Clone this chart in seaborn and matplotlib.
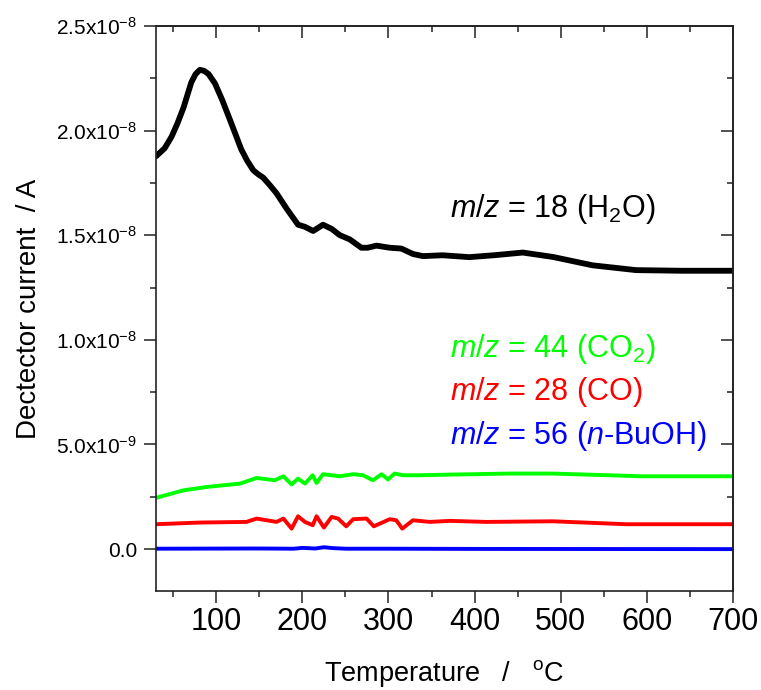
import matplotlib
matplotlib.use("Agg")
import matplotlib.pyplot as plt
import matplotlib.ticker as mticker
import numpy as np
import pandas as pd
import seaborn as sns

# ---- data (current in units of 1e-9 A) ----
T_h2o = [30, 40, 48, 55, 62, 71, 76, 81, 86, 91, 98.5, 107, 116, 123, 129, 136, 143,
         149, 154.5, 162, 170, 182, 195, 203, 212.5, 224, 234, 243.5, 255, 268.5,
         276, 286, 301.5, 315, 328.5, 340, 363, 394, 425, 456, 491, 537, 587.6, 640, 700]
I_h2o = [18.77, 19.15, 19.7, 20.35, 21.1, 22.3, 22.7, 22.9, 22.85, 22.7, 22.25, 21.45,
         20.5, 19.75, 19.1, 18.55, 18.1, 17.9, 17.75, 17.4, 17.0, 16.25, 15.5, 15.4,
         15.2, 15.5, 15.3, 15.0, 14.8, 14.4, 14.4, 14.5, 14.4, 14.36, 14.1, 14.0,
         14.04, 13.95, 14.05, 14.17, 13.96, 13.56, 13.33, 13.3, 13.3]

T_co2 = [30, 62, 89, 127.5, 147, 168, 178, 187.5, 195, 203, 212, 216.5, 224, 243.5,
         259, 270.5, 282, 292, 299.5, 307, 317, 336, 371, 440.7, 490.5, 595, 700]
I_co2 = [2.45, 2.81, 2.97, 3.13, 3.40, 3.29, 3.48, 3.09, 3.37, 3.13, 3.53, 3.16,
         3.58, 3.48, 3.58, 3.53, 3.29, 3.58, 3.33, 3.61, 3.53, 3.53, 3.56, 3.61,
         3.61, 3.48, 3.48]

T_co = [30, 81, 135, 147, 170, 178, 187.5, 195, 203, 212, 216.5, 225, 234, 241.5,
        251, 259, 274.5, 283, 301.5, 309, 316, 328.5, 348, 371, 413.6, 491, 576, 700]
I_co = [1.19, 1.27, 1.30, 1.46, 1.30, 1.46, 0.98, 1.57, 1.30, 1.14, 1.57, 1.03,
        1.54, 1.46, 1.09, 1.43, 1.46, 1.09, 1.43, 1.38, 0.98, 1.38, 1.30, 1.35,
        1.30, 1.33, 1.19, 1.19]

T_buoh = [30, 150, 190, 200, 215, 225, 235, 250, 300, 400, 700]
I_buoh = [0.02, 0.03, 0.02, 0.06, 0.03, 0.09, 0.05, 0.02, 0.02, 0.01, 0.0]

labels = ['$m/z$ = 18 (H$_2$O)', '$m/z$ = 44 (CO$_2$)',
          '$m/z$ = 28 (CO)', '$m/z$ = 56 ($n$-BuOH)']
colors = ['#000000', '#00ff00', '#ff0000', '#0000ff']

x_ticks = [100, 200, 300, 400, 500, 600, 700]
y_ticks = [0.0, 5e-9, 1e-8, 1.5e-8, 2e-8, 2.5e-8]
y_ticklabels = ['0.0', '5.0x10$^{-9}$', '1.0x10$^{-8}$', '1.5x10$^{-8}$',
                '2.0x10$^{-8}$', '2.5x10$^{-8}$']

# ---- style ----
sns.set_theme(style='ticks')
plt.rcParams['font.family'] = ['Liberation Sans', 'DejaVu Sans']
plt.rcParams['mathtext.fontset'] = 'custom'
plt.rcParams['mathtext.rm'] = 'Liberation Sans'
plt.rcParams['mathtext.it'] = 'Liberation Sans:italic'
plt.rcParams['mathtext.bf'] = 'Liberation Sans:bold'
for k in ('text.color', 'axes.labelcolor', 'xtick.color', 'ytick.color'):
    plt.rcParams[k] = 'black'

fig = plt.figure(figsize=(7.61, 6.90), dpi=100)
ax = fig.add_axes([0.205, 0.1435, 0.758, 0.819])

series = [(T_h2o, I_h2o, 4.2), (T_co2, I_co2, 2.8), (T_co, I_co, 2.8), (T_buoh, I_buoh, 2.8)]
for (T, I, lw), col in zip(series, colors):
    df = pd.DataFrame({'T': T, 'I': np.array(I) * 1e-9})
    sns.lineplot(data=df, x='T', y='I', ax=ax, color=col, linewidth=lw,
                 solid_joinstyle='round', solid_capstyle='round')

ax.set_xlim(30, 700)
ax.set_ylim(-2e-9, 2.5e-8)
ax.set_xticks(x_ticks)
ax.set_yticks(y_ticks)
ax.set_yticklabels(y_ticklabels)
ax.xaxis.set_minor_locator(mticker.MultipleLocator(50))
ax.yaxis.set_minor_locator(mticker.MultipleLocator(2.5e-9))

for s in ax.spines.values():
    s.set_visible(True)
    s.set_linewidth(1.2)
    s.set_color('#222222')

ax.tick_params(which='both', direction='out', bottom=True, left=True,
               top=False, right=False, color='#222222', width=1.1)
ax.tick_params(which='major', length=8.6)
ax.tick_params(which='minor', length=4.3)
ax.tick_params(axis='x', which='major', labelsize=22, pad=3)
ax.tick_params(axis='y', which='major', labelsize=15, pad=5)

# mirrored inward ticks on top/right
axt = ax.secondary_xaxis('top')
axt.set_xticks(x_ticks)
axt.xaxis.set_minor_locator(mticker.MultipleLocator(50))
axt.tick_params(which='both', direction='in', labeltop=False, color='#222222', width=1.1)
axt.tick_params(which='major', length=8.6)
axt.tick_params(which='minor', length=4.3)
axt.spines['top'].set_linewidth(1.2)
axr = ax.secondary_yaxis('right')
axr.set_yticks(y_ticks)
axr.yaxis.set_minor_locator(mticker.MultipleLocator(2.5e-9))
axr.tick_params(which='both', direction='in', labelright=False, color='#222222', width=1.1)
axr.tick_params(which='major', length=8.6)
axr.tick_params(which='minor', length=4.3)
axr.spines['right'].set_linewidth(1.2)

ax.set_xlabel('Temperature   /   $^{\\rm o}$C', fontsize=19.5)
ax.set_ylabel('Dectector current  / A', fontsize=20)
ax.xaxis.set_label_coords(0.5, -0.118)
ax.yaxis.set_label_coords(-0.198, 0.5)

# annotations
text_x = 372
text_y = [15.87e-9, 9.18e-9, 7.11e-9, 5.01e-9]
for lab, col, ty in zip(labels, colors, text_y):
    ax.text(text_x, ty, lab, color=col, fontsize=22, va='baseline', ha='left')

fig.savefig('out.png', dpi=100)
